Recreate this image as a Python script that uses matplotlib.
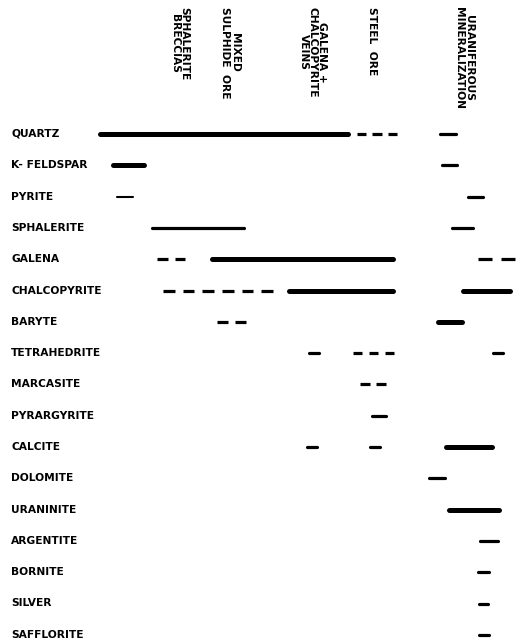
"""
Paragenetic sequence of the mineral stages
"""
import numpy as np
import matplotlib
matplotlib.use("Agg")
import matplotlib.pyplot as plt

plt.rcParams['font.family'] = ['DejaVu Sans']

# stage headers and where they sit along the time axis
stages = ['SPHALERITE\nBRECCIAS', 'MIXED\nSULPHIDE  ORE', 'GALENA +\nCHALCOPYRITE\nVEINS',
          'STEEL  ORE', 'URANIFEROUS\nMINERALIZATION']
stage_pos = [180, 230, 313, 372, 464]

minerals = ['QUARTZ', 'K- FELDSPAR', 'PYRITE', 'SPHALERITE', 'GALENA', 'CHALCOPYRITE',
            'BARYTE', 'TETRAHEDRITE', 'MARCASITE', 'PYRARGYRITE', 'CALCITE', 'DOLOMITE',
            'URANINITE', 'ARGENTITE', 'BORNITE', 'SILVER', 'SAFFLORITE']

# one entry per segment: mineral row, start, end, kind, number of dashes
seg_row = [0, 0, 0,
           1, 1,
           2, 2,
           3, 3,
           4, 4, 4,
           5, 5, 5,
           6, 6,
           7, 7, 7,
           8,
           9,
           10, 10, 10,
           11,
           12,
           13, 14, 15, 16]
seg_start = [100, 357, 440,
             113, 442,
             117, 468,
             152, 452,
             157, 212, 478,
             163, 289, 463,
             217, 438,
             309, 353, 493,
             360,
             372,
             307, 370, 446,
             429,
             449,
             480, 478, 479, 479]
seg_end = [348, 397, 456,
           144, 457,
           133, 483,
           244, 473,
           185, 393, 515,
           273, 393, 510,
           246, 462,
           319, 394, 503,
           386,
           386,
           317, 380, 492,
           445,
           499,
           498, 489, 488, 489]
seg_kind = ['thick', 'dash', 'mid',
            'thick', 'mid',
            'thin', 'mid',
            'mid', 'mid',
            'dash', 'thick', 'dash',
            'dash', 'thick', 'thick',
            'dash', 'thick',
            'mid', 'dash', 'mid',
            'dash',
            'mid',
            'mid', 'mid', 'thick',
            'mid',
            'thick',
            'mid', 'mid', 'mid', 'mid']
seg_ndash = [1, 3, 1,
             1, 1,
             1, 1,
             1, 1,
             2, 1, 2,
             6, 1, 1,
             2, 1,
             1, 3, 1,
             2,
             1,
             1, 1, 1,
             1,
             1,
             1, 1, 1, 1]

widths = {'thick': 3.6, 'mid': 2.3, 'thin': 1.5, 'dash': 2.3}

W, H = 517, 642
fig = plt.figure(figsize=(W / 100, H / 100), dpi=100)
ax = fig.add_axes([0, 0, 1, 1])
ax.set_xlim(0, W)
# row spacing in the picture, first row near the top
row0, step = 134, 31.3
ax.set_ylim((H - row0) / step, -row0 / step)
ax.axis('off')

for r, s, e, k, n in zip(seg_row, seg_start, seg_end, seg_kind, seg_ndash):
    if n > 1:
        # split into n dashes with gaps
        period = (e - s) / (n - 0.4)
        for j in range(n):
            a = s + j * period
            ax.plot([a, a + period * 0.6], [r, r], color='black', lw=widths[k],
                    solid_capstyle='butt')
    else:
        ax.plot([s, e], [r, r], color='black', lw=widths[k], solid_capstyle='round')

for i, m in enumerate(minerals):
    ax.text(11, i, m, fontsize=7.7, fontweight='bold', va='center', ha='left')

for lab, x in zip(stages, stage_pos):
    ax.text(x, -row0 / step + 7 / step, lab, rotation=270, fontsize=7.7, fontweight='bold',
            va='top', ha='center', linespacing=0.9)

fig.savefig('out.png', dpi=100)
